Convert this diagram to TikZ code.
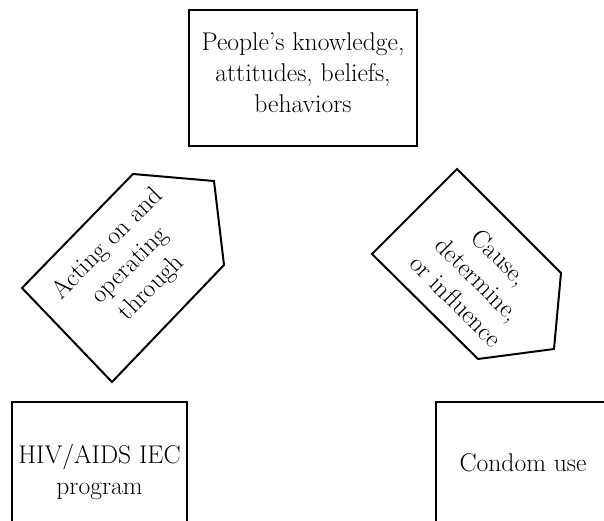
\documentclass[tikz,border=0pt]{standalone}
\begin{document}
\begin{tikzpicture}[x=1pt,y=-1pt,line width=2pt,line join=miter,
  txt/.style={align=center,inner sep=0pt,font=\fontsize{25.6}{31}\selectfont},
  box/.style={draw,line width=2pt,inner sep=0pt}]
\useasboundingbox (0,0) rectangle (604,521);
\clip (0,0) rectangle (604,521);
% boxes
\node[box,minimum width=228pt,minimum height=136pt] (know) at (303,78) {};
\node[txt] (knowtxt) at (303,73) {People’s knowledge,\\attitudes, beliefs,\\behaviors};
\node[box,minimum width=175pt,minimum height=140pt] (hiv) at (99.5,472) {};
\node[txt] (hivtxt) at (99.5,472) {HIV/AIDS IEC\\program};
\node[box,minimum width=174pt,minimum height=122pt] (condom) at (523,463) {};
\node[txt] (condomtxt) at (523,463) {Condom use};
% left arrow shape
\coordinate (l1) at (133,174);
\coordinate (l2) at (214,181);
\coordinate (l3) at (224,265);
\coordinate (l4) at (112,382);
\coordinate (l5) at (22,288);
\draw (l1) -- (l2) -- (l3) -- (l4) -- (l5) -- cycle;
\node[txt,rotate=45] (act) at (130,266) {Acting on and\\operating\\through};
% right arrow shape
\coordinate (r1) at (457,169);
\coordinate (r2) at (561,273);
\coordinate (r3) at (554,349);
\coordinate (r4) at (478,359);
\coordinate (r5) at (372,254);
\draw (r1) -- (r2) -- (r3) -- (r4) -- (r5) -- cycle;
\node[txt,rotate=-45] (cause) at (478,279) {Cause,\\determine,\\or influence};
\end{tikzpicture}
\end{document}
